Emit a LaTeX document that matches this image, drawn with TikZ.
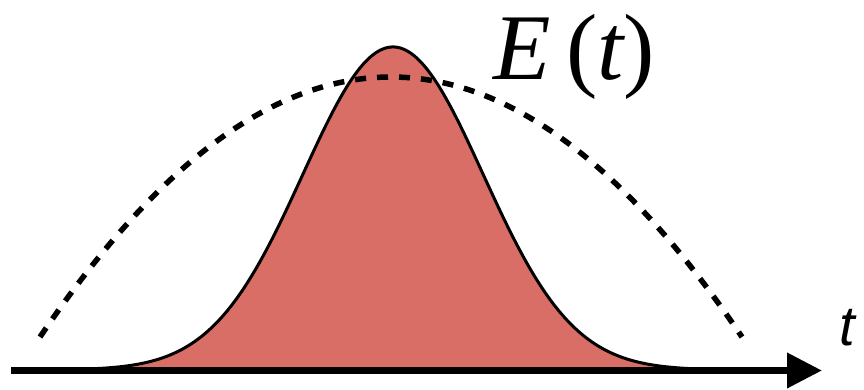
\documentclass[tikz,border=0pt]{standalone}
\usepackage{fontspec}
\setmainfont{Liberation Serif}
\newfontfamily\labelsans{Liberation Sans}
\usetikzlibrary{arrows.meta}
\definecolor{pulsered}{RGB}{217,110,103}
\tikzset{
  pulse/.style={fill=pulsered, draw=black, line width=3pt, line join=round},
  envelope/.style={draw=black, line width=5.5pt, dash pattern=on 11pt off 11pt},
  axisline/.style={draw=black, line width=7pt, -{Triangle[length=35pt,width=34pt]}},
}
\begin{document}
\begin{tikzpicture}[x=1pt,y=-1pt]
\useasboundingbox (0,0) rectangle (864,390);
% Gaussian pulse
\path[pulse] plot[domain=80:706, samples=220, smooth] (\x,{370-323*exp(-((\x-393)/90)^2/2)}) -- cycle;
% dashed envelope
\path[envelope] plot[domain=40:742, samples=120, smooth] (\x,{77+260*((\x-391)/351)^2});
% axis
\coordinate (ax0) at (11,370.5);
\coordinate (ax1) at (822,370.5);
\draw[axisline] (ax0) -- (ax1);
% labels
\node[anchor=base, inner sep=0pt, font=\fontsize{94}{100}\selectfont] (Elabel) at (574,80) {\itshape E\,\upshape(\itshape t\upshape)};
\node[anchor=base, inner sep=0pt, font=\labelsans\fontsize{56}{60}\selectfont\itshape] (tlabel) at (847,345) {t};
\end{tikzpicture}
\end{document}
